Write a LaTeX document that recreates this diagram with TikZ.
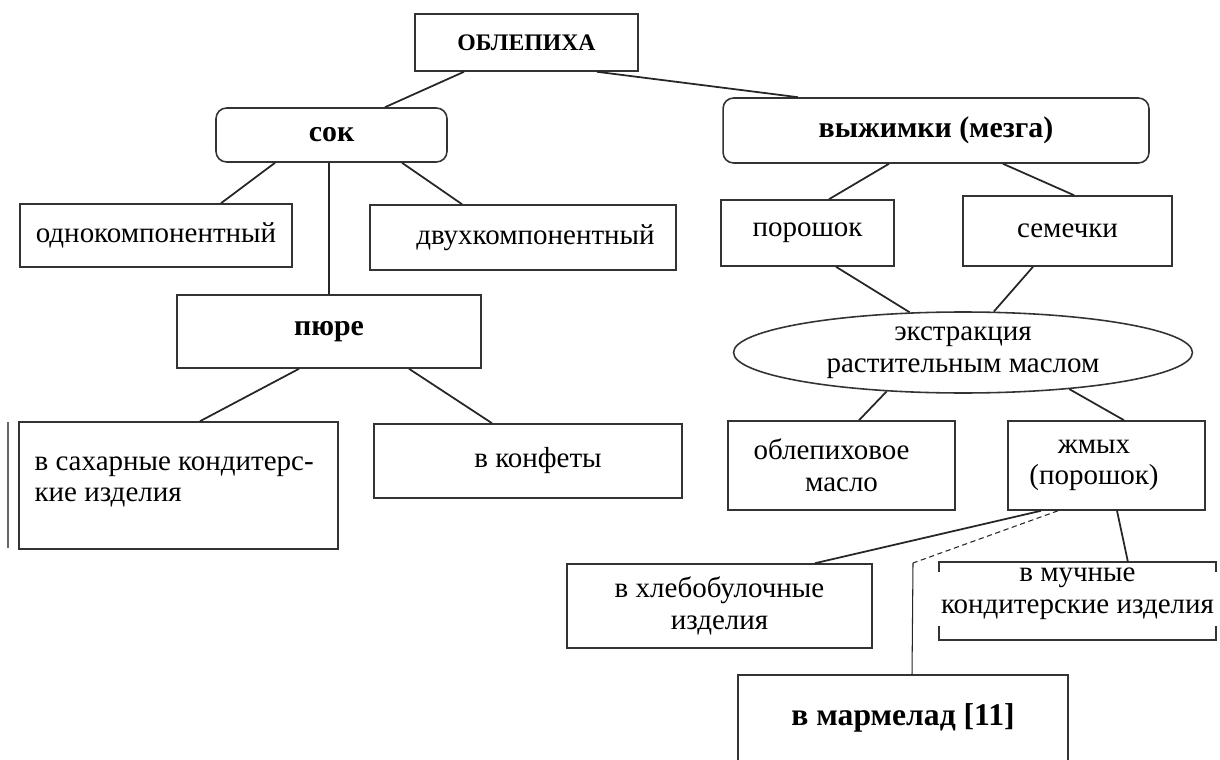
\documentclass[tikz,border=0pt]{standalone}
\usepackage{fontspec}
\setmainfont{Liberation Serif}
\usetikzlibrary{shapes.geometric}
\begin{document}
\begin{tikzpicture}[x=0.02cm,y=-0.02cm,
                box/.style={draw=black!80,line width=0.9pt,inner sep=0pt,align=center,font=\fontsize{16.5}{18}\selectfont},
                rbox/.style={box,rounded corners=6pt,font=\bfseries\fontsize{17}{19}\selectfont},
                bbox/.style={box,font=\bfseries\fontsize{17}{19}\selectfont},
                link/.style={line width=1pt,black!85}]
                \useasboundingbox (0,0) rectangle (1220,760);
                \node[bbox,font=\bfseries\fontsize{13.5}{16}\selectfont,minimum width=4.46cm,minimum height=1.14cm] (obl) at (526.5,42.5) {ОБЛЕПИХА};
                \node[rbox,minimum width=4.62cm,minimum height=1.08cm] (sok) at (331.5,135) {сок};
                \node[rbox,minimum width=8.52cm,minimum height=1.3cm] (vyzh) at (936,130.5) {выжимки (мезга)};
                \node[box,minimum width=5.44cm,minimum height=1.26cm] (odno) at (156,235.5) {однокомпонентный};
                \node[box,minimum width=6.12cm,minimum height=1.3cm] (dvuh) at (523,237.5) {\hspace*{0.5cm}двухкомпонентный};
                \node[bbox,minimum width=6.08cm,minimum height=1.46cm] (pyure) at (329,331.5) {пюре};
                \node[box,minimum width=3.46cm,minimum height=1.32cm] (poroshok) at (807.5,233) {порошок};
                \node[box,minimum width=4.18cm,minimum height=1.4cm] (semechki) at (1067.5,231) {семечки};
                \node[box,ellipse,minimum width=9.18cm,minimum height=1.62cm] (ekstr) at (963,352.5) {экстракция\\растительным маслом};
                \node[box,minimum width=6.38cm,minimum height=2.54cm] (sahar) at (178.5,485.5) {};
                \node[anchor=north west,inner sep=0pt,align=left,font=\fontsize{16.5}{18}\selectfont] (sahartxt) at ([shift={(16,35)}]sahar.north west) {в сахарные кондитерс-\\кие изделия};
                \node[box,minimum width=6.16cm,minimum height=1.48cm] (konf) at (528,461) {\hspace*{0.4cm}в конфеты};
                \node[box,minimum width=4.54cm,minimum height=1.78cm] (maslo) at (841.5,465.5) {облепиховое\hspace*{0.4cm}\\масло};
                \node[box,minimum width=3.94cm,minimum height=1.78cm] (zhmyh) at (1106.5,465.5) {жмых\hspace*{0.5cm}\\(порошок)\hspace*{0.5cm}};
                \node[box,minimum width=6.1cm,minimum height=1.68cm] (hleb) at (719.5,606) {в хлебобулочные\\изделия};
                \node[box,draw=none,minimum width=5.5cm,minimum height=1.52cm] (much) at (1077.5,593.5) {в мучные\\кондитерские изделия};
                \node[bbox,draw=none,font=\bfseries\fontsize{18}{20}\selectfont,minimum width=6.56cm,minimum height=1.68cm] (marm) at (903,718) {в мармелад [11]};
                % open frames
                \draw[draw=black!80,line width=0.9pt] ([yshift=-0.15cm]much.north west) ++(0,10) -- ([yshift=-0.15cm]much.north west) -- ([yshift=-0.15cm]much.north east) -- ++(0,10);
                \draw[draw=black!80,line width=0.9pt] ([yshift=-0.15cm]much.south west) ++(0,-14) -- ([yshift=-0.15cm]much.south west) -- ([yshift=-0.15cm]much.south east) -- ++(0,-14);
                \draw[draw=black!80,line width=0.9pt] (marm.south west) -- (marm.north west) -- (marm.north east) -- (marm.south east);
                \draw[black!60,line width=0.6pt] (8,422) -- (8,548);
                % links
                \draw[link] (obl.south -| 464,0) -- (sok.north -| 385,0);
                \draw[link] (obl.south -| 597,0) -- (vyzh.north -| 798,0);
                \draw[link] (sok.south -| 275,0) -- (odno.north -| 221,0);
                \draw[link] (sok.south -| 329,0) -- (pyure.north -| 329,0);
                \draw[link] (sok.south -| 402,0) -- (dvuh.north -| 462,0);
                \draw[link] (vyzh.south -| 889,0) -- (poroshok.north -| 829,0);
                \draw[link] (vyzh.south -| 1003,0) -- (semechki.north -| 1074,0);
                \draw[link] (pyure.south -| 299,0) -- (sahar.north -| 200,0);
                \draw[link] (pyure.south -| 409,0) -- (konf.north -| 492,0);
                \draw[link] (poroshok.south -| 836,0) -- (ekstr.143);
                \draw[link] (semechki.south -| 1033,0) -- (ekstr.53);
                \draw[link] (ekstr.-153) -- (maslo.north -| 859,0);
                \draw[link] (ekstr.-19) -- (zhmyh.north -| 1124,0);
                \draw[link] (zhmyh.south -| 1041,0) -- (hleb.north -| 815,0);
                \coordinate (bend) at (913,563);
                \draw[link,line width=0.6pt,densely dashed] (zhmyh.south -| 1058,0) -- (bend);
                \draw[link,line width=0.6pt] (bend) -- (marm.north -| 912,0);
                \draw[link] (zhmyh.south -| 1117,0) -- ([yshift=-0.15cm]much.north -| 1128,0);
            \end{tikzpicture}
\end{document}
